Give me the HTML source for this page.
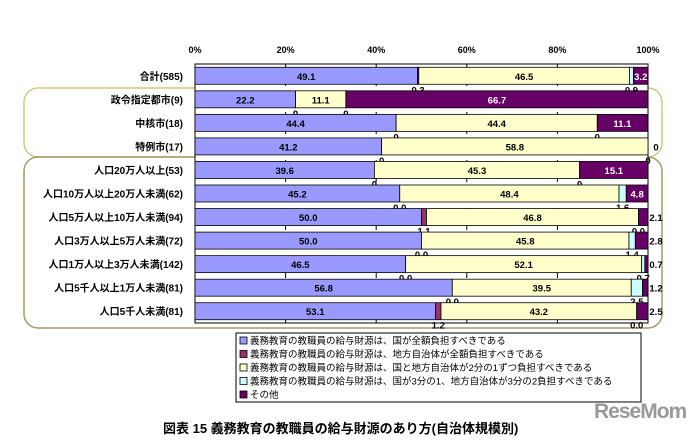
<!DOCTYPE html>
<html><head><meta charset="utf-8"><style>
body{margin:0;width:693px;height:440px;background:#fff;overflow:hidden;font-family:"Liberation Sans","Noto Sans CJK JP",sans-serif}
svg text{font-family:"Liberation Sans","Noto Sans CJK JP",sans-serif}
</style></head><body>
<svg id="c" width="693" height="440">
<rect x="24" y="88" width="638" height="69" rx="14" fill="none" stroke="#d6c77a" stroke-width="1.5"/>
<rect x="24" y="157" width="638" height="171" rx="14" fill="none" stroke="#a59a6a" stroke-width="1.5"/>
<g id="plot"></g>
<rect x="236" y="333" width="405" height="69" fill="#fff" stroke="#000"/>
<g id="leg"></g>
<text x="163" y="433" font-size="13" font-weight="bold">図表 15 義務教育の教職員の給与財源のあり方(自治体規模別)</text>
<text x="594" y="418" font-size="21" font-weight="bold" fill="#999" letter-spacing="-1">ReseMom</text>
</svg>
<script>
const categories=["合計(585)","政令指定都市(9)","中核市(18)","特例市(17)","人口20万人以上(53)","人口10万人以上20万人未満(62)","人口5万人以上10万人未満(94)","人口3万人以上5万人未満(72)","人口1万人以上3万人未満(142)","人口5千人以上1万人未満(81)","人口5千人未満(81)"];
const s1=[49.1,22.2,44.4,41.2,39.6,45.2,50.0,50.0,46.5,56.8,53.1];
const s2=[0.3,0,0,0,0,0.0,1.1,0.0,0.0,0.0,1.2];
const s3=[46.5,11.1,44.4,58.8,45.3,48.4,46.8,45.8,52.1,39.5,43.2];
const s4=[0.9,0,0,0,0,1.6,0.0,1.4,0.7,2.5,0.0];
const s5=[3.2,66.7,11.1,0,15.1,4.8,2.1,2.8,0.7,1.2,2.5];
const ticks=["0%","20%","40%","60%","80%","100%"];
const seriesNames=["義務教育の教職員の給与財源は、国が全額負担すべきである","義務教育の教職員の給与財源は、地方自治体が全額負担すべきである","義務教育の教職員の給与財源は、国と地方自治体が2分の1ずつ負担すべきである","義務教育の教職員の給与財源は、国が3分の1、地方自治体が3分の2負担すべきである","その他"];
const colors=["#9999ff","#993366","#ffffcc","#ccffff","#660066"];
const X0=195,X1=648,T=64,B=323;
const x=v=>X0+(X1-X0)*v/100;
const rowH=(B-T)/categories.length;
const y=i=>T+rowH*i+rowH/2;
const NS="http://www.w3.org/2000/svg";
const g=document.getElementById('plot');
function mk(t,a,p){const e=document.createElementNS(NS,t);for(const k in a)e.setAttribute(k,a[k]);(p||g).appendChild(e);return e;}
const bg=mk('rect',{x:X0,y:T,width:X1-X0,height:B-T,fill:'#fff',stroke:'#000','stroke-width':1});


ticks.forEach((t,k)=>{const v=k*20;
 if(k>0&&k<5){const l=mk('line',{x1:x(v),x2:x(v),y1:T,y2:B,stroke:'#000','stroke-dasharray':'6,10'});
 
 }
 const tx=mk('text',{x:x(v),y:53,'font-size':9,'font-weight':'bold','text-anchor':'middle'});tx.textContent=t;
 
 
});
const S=[s1,s2,s3,s4,s5];
categories.forEach((c,i)=>{
 const cy=y(i),h=17;
 const lb=mk('text',{x:183,y:cy+4,'font-size':10,'font-weight':'bold','text-anchor':'end'});lb.textContent=c;
 
 
 let acc=0;
 S.forEach((s,j)=>{const v=s[i];const x0=x(acc),w=x(acc+v)-x0;
  if(v>0){const r=mk('rect',{x:x0,y:cy-h/2,width:w,height:h,fill:colors[j],stroke:'#000','stroke-width':0.8});
   
   }
  let tx,ty,fill=(j==4||j==1)?'#fff':'#000',anchor='middle';
  if(v>=3){tx=x0+w/2;ty=cy+4;}
  else if(j==4){tx=X1+8;ty=cy+4;fill='#000';}
  else{tx=x0+w/2;ty=cy+h/2+9;fill='#000';}
  const t=mk('text',{x:tx,y:ty,'font-size':9.5,'font-weight':'bold','text-anchor':anchor,fill:fill});t.textContent=(i>=5||i==0)?v.toFixed(1):(v==0?'0':v.toFixed(1));
  
  
  acc+=v;});
});
const lg=document.getElementById('leg');
seriesNames.forEach((n,j)=>{const ly=343+j*13.5;
 const r=mk('rect',{x:240,y:ly-6,width:7,height:7,fill:colors[j],stroke:'#000','stroke-width':0.8},lg);
 
 
 const t=mk('text',{x:250,y:ly+1,'font-size':9.5},lg);t.textContent=n;
 
 
});
</script>
</body></html>
